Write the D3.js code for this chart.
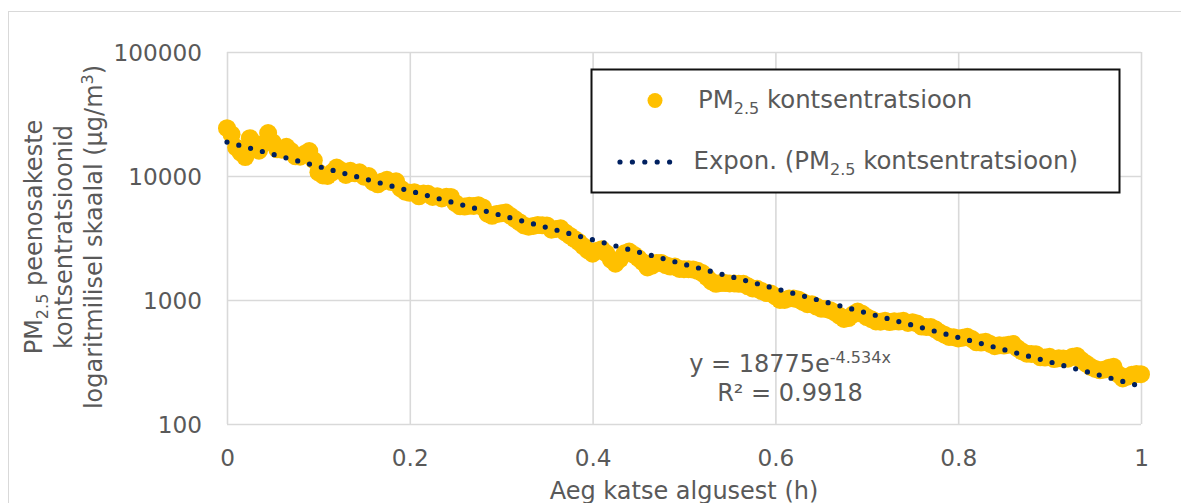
<!DOCTYPE html>
<html><head><meta charset="utf-8">
<script src="https://cdn.jsdelivr.net/npm/d3@7"></script>
<style>
body{margin:0;background:#fff;}
svg{display:block;}
text{font-family:"DejaVu Sans",Verdana,sans-serif;fill:#595959;}
</style>
</head><body><svg id="c" width="1181" height="503"></svg>
<script>
const timeH = [
0,0.005,0.01,0.015,0.02,0.025,0.03,0.035,0.04,0.045,
0.05,0.055,0.06,0.065,0.07,0.075,0.08,0.085,0.09,0.095,
0.1,0.105,0.11,0.115,0.12,0.125,0.13,0.135,0.14,0.145,
0.15,0.155,0.16,0.165,0.17,0.175,0.18,0.185,0.19,0.195,
0.2,0.205,0.21,0.215,0.22,0.225,0.23,0.235,0.24,0.245,
0.25,0.255,0.26,0.265,0.27,0.275,0.28,0.285,0.29,0.295,
0.3,0.305,0.31,0.315,0.32,0.325,0.33,0.335,0.34,0.345,
0.35,0.355,0.36,0.365,0.37,0.375,0.38,0.385,0.39,0.395,
0.4,0.405,0.41,0.415,0.42,0.425,0.43,0.435,0.44,0.445,
0.45,0.455,0.46,0.465,0.47,0.475,0.48,0.485,0.49,0.495,
0.5,0.505,0.51,0.515,0.52,0.525,0.53,0.535,0.54,0.545,
0.55,0.555,0.56,0.565,0.57,0.575,0.58,0.585,0.59,0.595,
0.6,0.605,0.61,0.615,0.62,0.625,0.63,0.635,0.64,0.645,
0.65,0.655,0.66,0.665,0.67,0.675,0.68,0.685,0.69,0.695,
0.7,0.705,0.71,0.715,0.72,0.725,0.73,0.735,0.74,0.745,
0.75,0.755,0.76,0.765,0.77,0.775,0.78,0.785,0.79,0.795,
0.8,0.805,0.81,0.815,0.82,0.825,0.83,0.835,0.84,0.845,
0.85,0.855,0.86,0.865,0.87,0.875,0.88,0.885,0.89,0.895,
0.9,0.905,0.91,0.915,0.92,0.925,0.93,0.935,0.94,0.945,
0.95,0.955,0.96,0.965,0.97,0.975,0.98,0.985,0.99,0.995,
1
];
const pm25 = [
24300,21700,17000,15400,14200,20200,18300,16000,18200,22200,
18700,16400,16300,17200,15900,14400,14300,15100,15900,13400,
10700,10100,10000,10700,11700,11100,10200,11000,10500,10700,
9870,10000,8920,8560,9020,9320,8940,9070,7930,7470,
7310,7410,6850,7220,7190,6770,6870,6590,6810,6780,
6040,5690,5670,5750,5730,5810,5580,4970,4770,4930,
5000,5070,4780,4500,4240,3990,3900,3960,4020,4000,
3990,3690,3740,3790,3510,3300,3110,2930,2710,2510,
2360,2490,2570,2380,2120,1960,2140,2380,2460,2320,
2180,2020,1830,1890,1990,1990,1910,1860,1860,1780,
1770,1770,1760,1720,1650,1530,1410,1350,1370,1370,
1360,1360,1350,1350,1290,1240,1230,1180,1140,1130,
1070,1000,1000,1030,1030,1010,965,926,923,885,
850,846,827,794,748,704,715,766,807,774,
729,700,672,669,679,664,673,670,680,653,
662,647,610,607,605,580,547,525,503,501,
490,497,505,484,456,454,461,442,424,431,
429,435,441,408,384,369,367,366,345,343,
348,334,339,338,336,348,353,326,307,289,
278,271,275,284,289,252,233,241,249,253,
252
];
const trendA = 18775;
const trendB = -4.534;
const trendR2 = "0.9918";
const xTickValues = [0,0.2,0.4,0.6,0.8,1];
const xTickLabels = ["0","0.2","0.4","0.6","0.8","1"];
const yTickValues = [100,1000,10000,100000];
const yTickLabels = ["100","1000","10000","100000"];

const W = 1181, H = 503;
const svg = d3.select("#c");
const P = {left:227, right:1141, top:52, bottom:424};
const x = d3.scaleLinear().domain([0,1]).range([P.left,P.right]);
const y = d3.scaleLog().domain([100,100000]).range([P.bottom,P.top]);

svg.append("rect").attr("width",W).attr("height",H).attr("fill","#fff");
svg.append("rect").attr("x",8.5).attr("y",11.5).attr("width",1300).attr("height",700)
  .attr("fill","none").attr("stroke","#d9d9d9").attr("stroke-width",1);

// X axis + vertical gridlines
const gx = svg.append("g").attr("transform",`translate(0,${P.bottom})`)
  .call(d3.axisBottom(x).tickValues(xTickValues).tickSize(-(P.bottom-P.top))
    .tickPadding(25.5).tickFormat((d,i)=>xTickLabels[i]));
// Y axis + horizontal gridlines
const gy = svg.append("g").attr("transform",`translate(${P.left},0)`)
  .call(d3.axisLeft(y).tickValues(yTickValues).tickSize(-(P.right-P.left))
    .tickPadding(25).tickFormat((d,i)=>yTickLabels[i]));
[gx,gy].forEach(g=>{
  g.select(".domain").remove();
  g.selectAll(".tick line").attr("stroke","#d9d9d9").attr("stroke-width",1.6);
  g.selectAll(".tick text").attr("fill","#595959").style("font-size","23.2px")
    .style("font-family","'DejaVu Sans',Verdana,sans-serif");
});
gy.selectAll(".tick text").attr("dy","0.38em");

// scatter
svg.append("g").selectAll("circle").data(timeH.map((t,i)=>[t,pm25[i]])).join("circle")
  .attr("cx",d=>x(d[0])).attr("cy",d=>y(d[1])).attr("r",9).attr("fill","#FFC000");

// exponential trendline (straight on log axis)
const tEnds = x.domain().map(t=>[t, trendA*Math.exp(trendB*t)]);
svg.append("path").datum(tEnds)
  .attr("d", d3.line().x(d=>x(d[0])).y(d=>y(d[1])))
  .attr("fill","none").attr("stroke","#002060").attr("stroke-width",5.2)
  .attr("stroke-linecap","round").attr("stroke-dasharray","0 12.2");

// equation
const eq = svg.append("text").attr("x",790).attr("y",372).attr("text-anchor","middle").style("font-size","24px");
eq.append("tspan").text("y = " + trendA + "e");
eq.append("tspan").attr("baseline-shift","9px").style("font-size","16px").text(trendB + "x");
svg.append("text").attr("x",790).attr("y",400.5).attr("text-anchor","middle").style("font-size","24px")
  .text("R² = " + trendR2);

// legend
const lg = svg.append("g");
lg.append("rect").attr("x",591.5).attr("y",69.5).attr("width",528).attr("height",123)
  .attr("fill","#fff").attr("stroke","#111").attr("stroke-width",2);
lg.append("circle").attr("cx",655).attr("cy",100.5).attr("r",7.5).attr("fill","#FFC000");
const l1 = lg.append("text").attr("x",698).attr("y",108).style("font-size","24.4px");
l1.append("tspan").text("PM");
l1.append("tspan").attr("baseline-shift","-6px").style("font-size","16px").text("2.5");
l1.append("tspan").text(" kontsentratsioon");
lg.append("path").attr("d",`M620,162H671`).attr("stroke","#002060").attr("stroke-width",5.2)
  .attr("stroke-linecap","round").attr("stroke-dasharray","0 12.4");
const l2 = lg.append("text").attr("x",693.5).attr("y",168.5).style("font-size","24.4px");
l2.append("tspan").text("Expon. (PM");
l2.append("tspan").attr("baseline-shift","-6px").style("font-size","16px").text("2.5");
l2.append("tspan").text(" kontsentratsioon)");

// y axis title
const yt = svg.append("text").attr("transform","translate(0,237) rotate(-90)")
  .attr("text-anchor","middle").style("font-size","24px");
const t1 = yt.append("tspan").attr("x",0).attr("y",41.5);
t1.append("tspan").text("PM");
t1.append("tspan").attr("baseline-shift","-6px").style("font-size","16px").text("2.5");
t1.append("tspan").text(" peenosakeste");
yt.append("tspan").attr("x",0).attr("y",71.5).text("kontsentratsioonid");
const t3 = yt.append("tspan").attr("x",0).attr("y",101.5);
t3.append("tspan").text("logaritmilisel skaalal (µg/m");
t3.append("tspan").attr("baseline-shift","9px").style("font-size","16px").text("3");
t3.append("tspan").text(")");

// x axis title (cut by the bottom edge, as in the reference)
svg.append("text").attr("x",(P.left+P.right)/2).attr("y",499).attr("text-anchor","middle")
  .style("font-size","24px").text("Aeg katse algusest (h)");
</script>
</body></html>
